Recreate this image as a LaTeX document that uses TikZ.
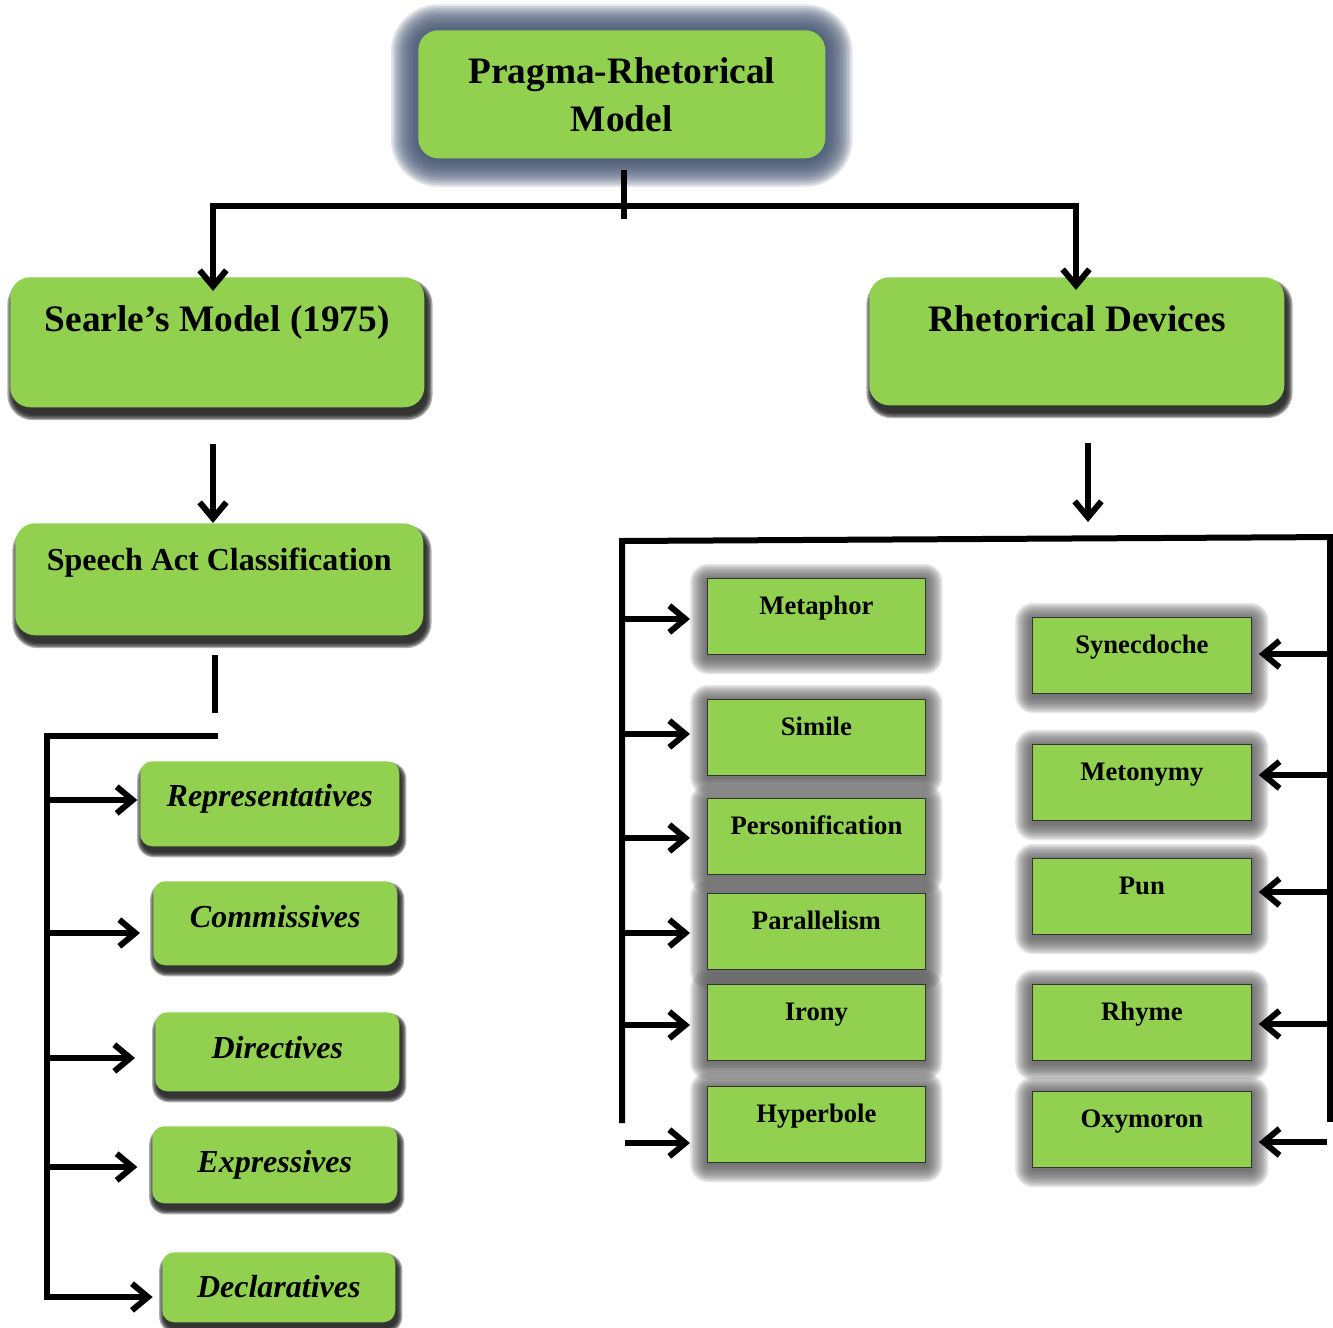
\documentclass[tikz,border=0pt]{standalone}
\usepackage{fontspec}
\setmainfont{Liberation Serif}
\usetikzlibrary{arrows.meta,backgrounds}
\definecolor{boxgreen}{RGB}{146,208,80}
\definecolor{slate}{RGB}{70,86,114}
\definecolor{glowgray}{RGB}{90,90,90}
\definecolor{shadowdark}{RGB}{25,25,25}

% #1 node, #2 colour, #3 steps, #4 step (pt), #5 base corner (pt), #6 xshift (pt), #7 yshift (pt), #8 opacity
\newcommand\softshade[8]{%
  \begin{pgfonlayer}{background}
  \foreach \i in {1,...,#3}{%
    \pgfmathsetmacro\dd{(#3-\i)*#4}%
    \pgfmathsetmacro\rr{#5+\dd}%
    \fill[#2, fill opacity=#8, rounded corners=\rr pt]
      ([xshift=#6pt-\dd pt, yshift=#7pt-\dd pt]#1.south west) rectangle
      ([xshift=#6pt+\dd pt, yshift=#7pt+\dd pt]#1.north east);
  }
  \end{pgfonlayer}}

\tikzset{
  barb/.tip={Straight Barb[length=12pt,width=20pt]},
  ln/.style={line width=4.5pt},
  arr/.style={ln,-barb},
  topbox/.style={fill=boxgreen, rounded corners=15pt, anchor=north west, align=center,
    minimum width=305.25pt, minimum height=96pt, inner sep=0pt,
    font=\bfseries\fontsize{28}{36}\selectfont},
  bigbox/.style={fill=boxgreen, rounded corners=15pt, anchor=north west, inner sep=0pt,
    font=\bfseries\fontsize{28}{32}\selectfont},
  ibox/.style={fill=boxgreen, rounded corners=9pt, anchor=north west, inner sep=0pt,
    font=\bfseries\itshape\fontsize{24}{28}\selectfont},
  rbox/.style={fill=boxgreen, draw=black!80, line width=0.6pt, anchor=north west, inner sep=0pt,
    minimum width=163.5pt, text height=27pt, text depth=30pt,
    font=\bfseries\fontsize{20}{24}\selectfont},
}

\begin{document}
\begin{tikzpicture}[x=0.75pt,y=-0.75pt]
\useasboundingbox (0,0) rectangle (1333,1327);

% ---------- nodes ----------
\node[topbox] (top) at (418,30) {Pragma-Rhetorical\\Model};
\node[bigbox, minimum width=310.5pt, text height=40.5pt, text depth=57pt] (searle) at (10,277) {Searle’s Model (1975)};
\node[bigbox, minimum width=311.25pt, text height=40.5pt, text depth=55.5pt] (rhet) at (869,277) {Rhetorical Devices};
\node[bigbox, font=\bfseries\fontsize{24}{28}\selectfont, minimum width=306pt, text height=35.25pt, text depth=48.75pt] (speech) at (15,523) {Speech Act Classification};

\node[ibox, minimum width=194.25pt, text height=33.75pt, text depth=30pt] (rep) at (140,761) {Representatives};
\node[ibox, minimum width=183pt, text height=34.5pt, text depth=28.5pt] (com) at (153,881) {Commissives};
\node[ibox, minimum width=183pt, text height=34.5pt, text depth=24.75pt] (dir) at (155,1012) {Directives};
\node[ibox, minimum width=183.75pt, text height=34.5pt, text depth=23.25pt] (exp) at (152,1126) {Expressives};
\node[ibox, minimum width=174.75pt, text height=33.75pt, text depth=18.75pt] (dec) at (162,1252) {Declaratives};

\node[rbox] (meta) at (707,578) {Metaphor};
\node[rbox] (sim) at (707,699) {Simile};
\node[rbox] (pers) at (707,798) {Personification};
\node[rbox] (para) at (707,893) {Parallelism};
\node[rbox] (iron) at (707,984) {Irony};
\node[rbox] (hyp) at (707,1086) {Hyperbole};

\node[rbox, minimum width=164.25pt] (syn) at (1032,617) {Synecdoche};
\node[rbox, minimum width=164.25pt] (meto) at (1032,744) {Metonymy};
\node[rbox, minimum width=164.25pt] (pun) at (1032,858) {Pun};
\node[rbox, minimum width=164.25pt] (rhy) at (1032,984) {Rhyme};
\node[rbox, minimum width=164.25pt] (oxy) at (1032,1091) {Oxymoron};

% ---------- shadows ----------
\softshade{top}{slate}{16}{1.35}{15}{0}{-1}{0.15}
\foreach \n in {searle,rhet,speech}{\softshade{\n}{shadowdark}{5}{1.0}{15}{2}{-5.5}{0.35}}
\foreach \n in {rep,com,dir,exp,dec}{\softshade{\n}{shadowdark}{5}{0.9}{9}{1.5}{-4.5}{0.35}}
\foreach \n in {meta,sim,pers,para,iron,hyp,syn,meto,pun,rhy,oxy}{\softshade{\n}{glowgray}{12}{1.15}{1}{0}{-2}{0.14}}

% ---------- connectors: top ----------
\coordinate (tv1) at (624,170);
\coordinate (tv2) at (624,219);
\draw[ln] (tv1) -- (tv2);
\coordinate (hl) at (213,206);
\coordinate (hr) at (1076,206);
\coordinate (sTip) at (213,291);
\coordinate (rTip) at (1076,290);
\draw[ln, barb-barb] (sTip) -- (hl) -- (hr) -- (rTip);

% ---------- left branch ----------
\coordinate (d1) at (213,444);
\draw[arr] (d1) -- (d1 |- speech.north);
\coordinate (s1) at (215,655);
\coordinate (s2) at (215,713);
\draw[ln] (s1) -- (s2);
\coordinate (bt) at (218,736);
\coordinate (bl) at (47,736);
\coordinate (bb) at (47,1297);
\draw[arr, shorten >=7pt] (bt) -- (bl) -- (bb) -- (bb -| dec.west);
\coordinate (c1) at (47,800);
\coordinate (c2) at (47,933);
\coordinate (c3) at (47,1058);
\coordinate (c4) at (47,1167);
\draw[arr, shorten >=2pt] (c1) -- (c1 -| rep.west);
\draw[arr, shorten >=9.75pt] (c2) -- (c2 -| com.west);
\draw[arr, shorten >=15pt] (c3) -- (c3 -| dir.west);
\draw[arr, shorten >=11pt] (c4) -- (c4 -| exp.west);

% ---------- right branch ----------
\coordinate (d2) at (1088,443);
\coordinate (d2e) at (1088,522);
\draw[arr] (d2) -- (d2e);
\coordinate (rb1) at (622,1123);
\coordinate (rb2) at (622,541);
\coordinate (rb3) at (1340,537);
\coordinate (rb4) at (1330,537);
\coordinate (rb5) at (1330,1122);
\draw[ln] (rb1) -- (rb2) -- (rb3);
\draw[ln] (rb4) -- (rb5);

\coordinate (e1) at (622,619);
\coordinate (e2) at (622,734);
\coordinate (e3) at (622,838);
\coordinate (e4) at (622,933);
\coordinate (e5) at (622,1025);
\coordinate (e6) at (625,1143);
\foreach \c/\n in {e1/meta,e2/sim,e3/pers,e4/para,e5/iron,e6/hyp}{
  \draw[arr, shorten >=12.75pt] (\c) -- (\c -| \n.west);
}
\coordinate (f1) at (1330,654);
\coordinate (f2) at (1330,775);
\coordinate (f3) at (1330,892);
\coordinate (f4) at (1330,1024);
\coordinate (f5) at (1327,1142);
\foreach \c/\n in {f1/syn,f2/meto,f3/pun,f4/rhy,f5/oxy}{
  \draw[arr, shorten >=5.25pt] (\c) -- (\c -| \n.east);
}
\end{tikzpicture}
\end{document}
